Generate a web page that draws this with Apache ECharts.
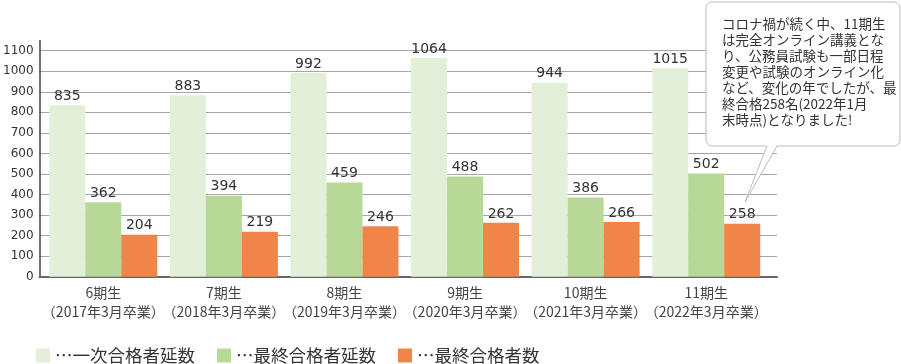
<!DOCTYPE html>
<html><head><meta charset="utf-8">
<script src="https://cdn.jsdelivr.net/npm/echarts@6/dist/echarts.min.js"></script>
<style>html,body{margin:0;padding:0;background:#fff}#c{width:901px;height:364px}</style>
</head><body><div id="c"></div>
<script>
const periods = ['6期生','7期生','8期生','9期生','10期生','11期生'];
const gradDates = ['（2017年3月卒業）','（2018年3月卒業）','（2019年3月卒業）','（2020年3月卒業）','（2021年3月卒業）','（2022年3月卒業）'];
const seriesNames = ['一次合格者延数','最終合格者延数','最終合格者数'];
const firstPassTotal = [835, 883, 992, 1064, 944, 1015];
const finalPassTotal = [362, 394, 459, 488, 386, 502];
const finalPass = [204, 219, 246, 262, 266, 258];
const yTicks = [0,100,200,300,400,500,600,700,800,900,1000,1100];
const calloutLines = [
  'コロナ禍が続く中、11期生',
  'は完全オンライン講義とな',
  'り、公務員試験も一部日程',
  '変更や試験のオンライン化',
  'など、変化の年でしたが、最',
  '終合格258名(2022年1月',
  '末時点)となりました!'
];

const colors = ['#e2efd9', '#b8d897', '#f0854a'];
const JP = "'Noto Sans CJK JP', sans-serif";
const NUM = "'DejaVu Sans', 'Noto Sans CJK JP', sans-serif";
const categories = periods.map((p, i) => p + '\n' + gradDates[i]);
const values = [firstPassTotal, finalPassTotal, finalPass];

const chart = echarts.init(document.getElementById('c'), null, {renderer: 'canvas'});
const gTop = 40.4, gBottom = 87.3;
chart.setOption({
  animation: false,
  color: colors,
  grid: [
    {left: 43, right: 134.5, top: gTop, bottom: gBottom},
    {left: 34.3, right: 124, top: gTop, bottom: gBottom}
  ],
  xAxis: [
    {type: 'category', gridIndex: 0, data: categories,
     axisLine: {show: false}, axisTick: {show: false},
     axisLabel: {interval: 0, margin: 7, fontSize: 14, lineHeight: 18.5, color: '#444', fontFamily: JP}},
    {type: 'value', gridIndex: 1, min: 0, max: 1,
     axisLine: {show: true, onZero: false, lineStyle: {color: '#666', width: 2}},
     axisTick: {show: false}, axisLabel: {show: false}, splitLine: {show: false}}
  ],
  yAxis: [
    {type: 'value', gridIndex: 0, min: 0, max: 1150,
     axisLine: {show: false}, axisTick: {show: false}, axisLabel: {show: false}, splitLine: {show: false}},
    {type: 'value', gridIndex: 1, min: 0, max: 1150, interval: 100,
     axisLine: {show: true, lineStyle: {color: '#444', width: 1.5}},
     axisTick: {show: false},
     axisLabel: {margin: 6, fontSize: 12, color: '#333', fontFamily: NUM, showMaxLabel: false,
       formatter: v => yTicks.includes(v) ? String(v) : ''},
     splitLine: {show: true, showMaxLine: false, lineStyle: {color: '#a6a6a6', width: 1}}}
  ],
  legend: {
    left: 36, top: 345.5, padding: 0, icon: 'rect', itemWidth: 14, itemHeight: 14, itemGap: 22,
    data: seriesNames,
    formatter: n => '…' + n,
    textStyle: {fontSize: 17.5, lineHeight: 20, color: '#333', fontFamily: JP}
  },
  series: seriesNames.map((name, k) => ({
    name, type: 'bar', xAxisIndex: 0, yAxisIndex: 0,
    data: values[k], barWidth: 36, barGap: '0%',
    itemStyle: {color: colors[k]},
    label: {show: true, position: 'top', distance: 2, fontSize: 14, color: '#333', fontFamily: NUM}
  })),
  graphic: [
    {type: 'rect', z: 100, shape: {x: 706, y: 2, width: 194, height: 144, r: 6},
     style: {fill: '#fff', stroke: '#bbb', lineWidth: 1}},
    {type: 'polygon', z: 101, shape: {points: [[767, 145], [745, 202], [777, 145]]},
     style: {fill: '#fff', stroke: null}},
    {type: 'polyline', z: 102, shape: {points: [[767, 146], [745, 202], [777, 146]]},
     style: {fill: null, stroke: '#bbb', lineWidth: 1}},
    {type: 'text', z: 103, left: 722, top: 16,
     style: {text: calloutLines.join('\n'), fontSize: 13.5, lineHeight: 16, fill: '#333', fontFamily: JP}}
  ]
});
</script></body></html>
